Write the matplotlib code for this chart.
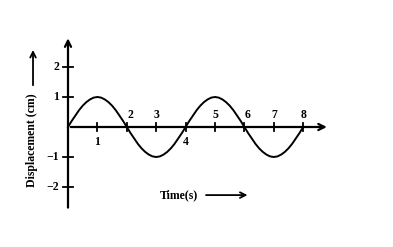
import numpy as np
from matplotlib import pyplot as plt

# displacement read every 0.125 s from the scan
time_s = np.arange(0, 8.001, 0.125)
half_wave = [0, 0.20, 0.38, 0.56, 0.71, 0.83, 0.92, 0.98,
             1, 0.98, 0.92, 0.83, 0.71, 0.56, 0.38, 0.20]
displacement_cm = (half_wave + [-v for v in half_wave]) * 2 + [0]

x_ticks = [1, 2, 3, 4, 5, 6, 7, 8]
x_labels_below = [1, 4]
y_ticks = [2, 1, -1, -2]
y_tick_labels = ['2', '1', '\u22121', '\u22122']

font = dict(family='Liberation Serif', fontweight='bold', fontsize=8.5, color='black')

fig = plt.figure(figsize=(3.93, 2.47), dpi=100)
ax = fig.add_axes([0, 0, 1, 1])
ax.set_xlim(-68 / 29.4, (393 - 68) / 29.4)
ax.set_ylim(-120 / 30, 127 / 30)
ax.axis('off')

arrow = dict(arrowstyle='->', lw=1.6, color='black', mutation_scale=11)
# axes with arrow heads
ax.annotate('', xy=(8.9, 0), xytext=(0, 0), arrowprops=arrow)
ax.annotate('', xy=(0, 3.05), xytext=(0, -2.78), arrowprops=arrow)

for t in x_ticks:
    ax.plot([t, t], [-0.14, 0.14], color='black', lw=1.3)
    if t in x_labels_below:
        ax.text(t, -0.3, str(t), ha='center', va='top', **font)
    elif t in (2, 6):
        ax.text(t + 0.12, 0.2, str(t), ha='center', va='bottom', **font)
    else:
        ax.text(t, 0.2, str(t), ha='center', va='bottom', **font)

for v, lab in zip(y_ticks, y_tick_labels):
    ax.plot([-0.16, 0.16], [v, v], color='black', lw=1.3)
    ax.text(-0.3, v, lab, ha='right', va='center', **font)

ax.plot(time_s, displacement_cm, color='black', lw=1.4)

ax.text(-1.22, -0.45, 'Displacement (cm)', rotation=90, ha='center', va='center', **font)
ax.annotate('', xy=(-1.19, 2.66), xytext=(-1.19, 1.3),
            arrowprops=dict(arrowstyle='->', lw=1.3, color='black', mutation_scale=10))
ax.text(3.77, -2.27, 'Time(s)', ha='center', va='center', **font)
ax.annotate('', xy=(6.2, -2.27), xytext=(4.6, -2.27),
            arrowprops=dict(arrowstyle='->', lw=1.3, color='black', mutation_scale=10))

fig.savefig('out.png', dpi=100, facecolor='white')
